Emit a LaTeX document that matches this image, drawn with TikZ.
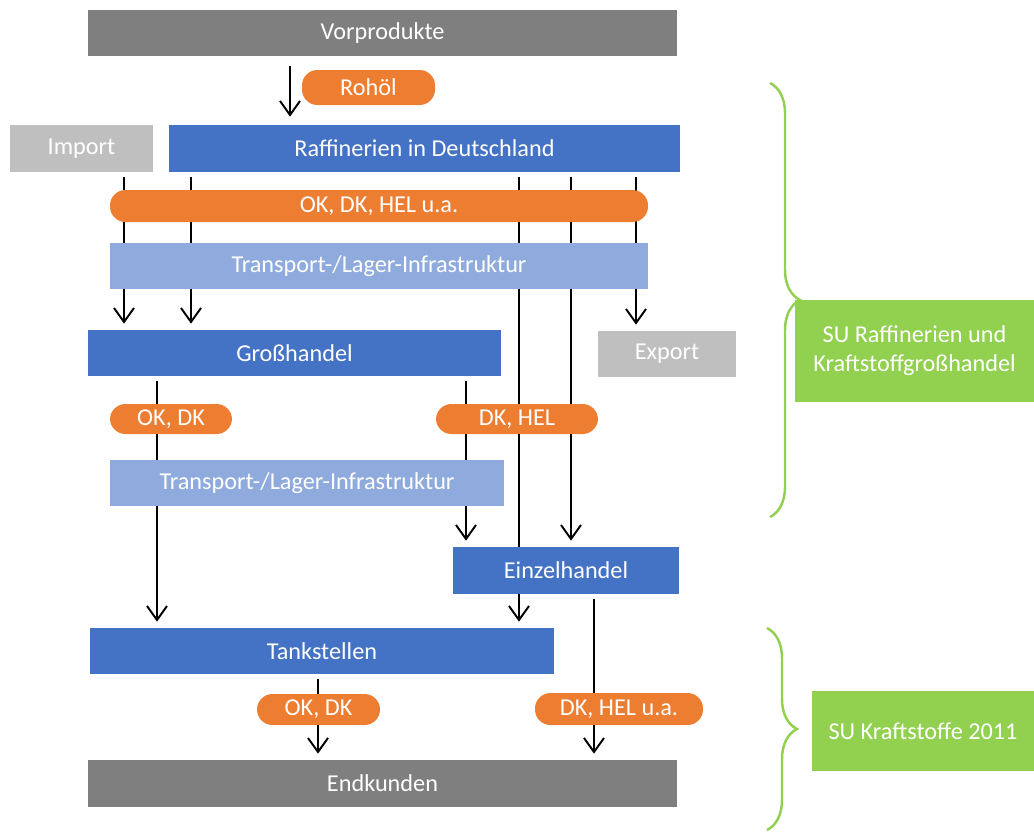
\documentclass[tikz,border=0pt]{standalone}
\usepackage{fontspec}
\setmainfont{Carlito}
\usetikzlibrary{fit,arrows.meta,backgrounds,decorations.pathreplacing}
\definecolor{dunkelgrau}{HTML}{7F7F7F}
\definecolor{hellgrau}{HTML}{BFBFBF}
\definecolor{blau}{HTML}{4472C4}
\definecolor{hellblau}{HTML}{8FAADC}
\definecolor{orange}{HTML}{ED7D31}
\definecolor{gruen}{HTML}{92D050}
\newcommand{\mittel}{\fontsize{13.8pt}{16.5pt}\selectfont}

\begin{document}
\begin{tikzpicture}[x=0.02cm,y=-0.02cm,
  kasten/.style={inner sep=0pt},
  every label/.style={text=white,font=\mittel,align=center,inner sep=0pt},
  pille/.style={kasten,fill=orange,rounded corners=0.31cm},
  pfeil/.style={draw=black,line width=1.1pt,
    -{Straight Barb[length=0.28cm,width=0.4cm]},
    shorten <=0.1cm,shorten >=0.12cm},
  klammer/.style={draw=gruen,line width=1.4pt,
    decorate,decoration={brace,amplitude=0.6cm,aspect=0.5}}]
    \useasboundingbox (0,0) rectangle (1034,832);
    % Stufen
    \node[kasten,fill=dunkelgrau,fit={(88,10) (677,56)},label=center:Vorprodukte] (vorprod) {};
    \node[pille,fit={(302,70) (435,105)},label=center:Rohöl] (rohoel) {};
    \node[kasten,fill=hellgrau,fit={(10,125) (153,172)},label=center:Import] (import) {};
    \node[kasten,fill=blau,fit={(169,125) (680,172)},label=center:Raffinerien in Deutschland] (raff) {};
    \node[pille,fit={(110,190) (648,222)},label=center:{OK, DK, HEL u.a.}] (sorten1) {};
    \node[kasten,fill=hellblau,fit={(110,243) (648,289)},label=center:Transport-/Lager-Infrastruktur] (trans1) {};
    \node[kasten,fill=blau,fit={(88,330) (501,376)},label=center:Großhandel] (gross) {};
    \node[kasten,fill=hellgrau,fit={(598,331) (736,377)},label=center:Export] (export) {};
    \node[pille,fit={(110,404) (232,434)},label=center:{OK, DK}] (sorten2) {};
    \node[pille,fit={(436,404) (598,434)},label=center:{DK, HEL}] (sorten3) {};
    \node[kasten,fill=hellblau,fit={(110,460) (504,506)},label=center:Transport-/Lager-Infrastruktur] (trans2) {};
    \node[kasten,fill=blau,fit={(453,547) (679,594)},label=center:Einzelhandel] (einzel) {};
    \node[kasten,fill=blau,fit={(90,628) (554,674)},label=center:Tankstellen] (tank) {};
    \node[pille,fit={(257,694) (380,725)},label=center:{OK, DK}] (sorten4) {};
    \node[pille,fit={(535,693) (703,725)},label=center:{DK, HEL u.a.}] (sorten5) {};
    \node[kasten,fill=dunkelgrau,fit={(88,760) (677,807)},label=center:Endkunden] (endk) {};

    % Untersuchungen
    \node[kasten,fill=gruen,fit={(795,300) (1034,402)},label=center:{SU Raffinerien und\\Kraftstoffgroßhandel}] (su1) {};
    \node[kasten,fill=gruen,fit={(812,691) (1034,771)},label=center:{SU Kraftstoffe 2011}] (su2) {};
    \coordinate (kl1o) at (770,83);
    \coordinate (kl1u) at (770,517);
    \coordinate (kl2o) at (767,628);
    \coordinate (kl2u) at (767,830);
    \draw[klammer] (kl1o) -- (kl1u);
    \draw[klammer] (kl2o) -- (kl2u);

    % Fluesse
    \begin{pgfonlayer}{background}
    \draw[pfeil,shorten <=0.2cm,shorten >=0.16cm] (vorprod.south -| 290,0) -- (raff.north -| 290,0);
    \foreach \x in {124,191}
      \draw[pfeil] (raff.south -| \x,0) -- (gross.north -| \x,0);
    \draw[pfeil] (raff.south -| 636,0) -- (export.north -| 636,0);
    \draw[pfeil] (raff.south -| 519,0) -- (tank.north -| 519,0);
    \draw[pfeil] (raff.south -| 571,0) -- (einzel.north -| 571,0);
    \draw[pfeil] (gross.south -| 157,0) -- (tank.north -| 157,0);
    \draw[pfeil] (gross.south -| 466,0) -- (einzel.north -| 466,0);
    \draw[pfeil] (tank.south -| 318,0) -- (endk.north -| 318,0);
    \draw[pfeil] (einzel.south -| 594,0) -- (endk.north -| 594,0);
    \end{pgfonlayer}
\end{tikzpicture}
\end{document}
